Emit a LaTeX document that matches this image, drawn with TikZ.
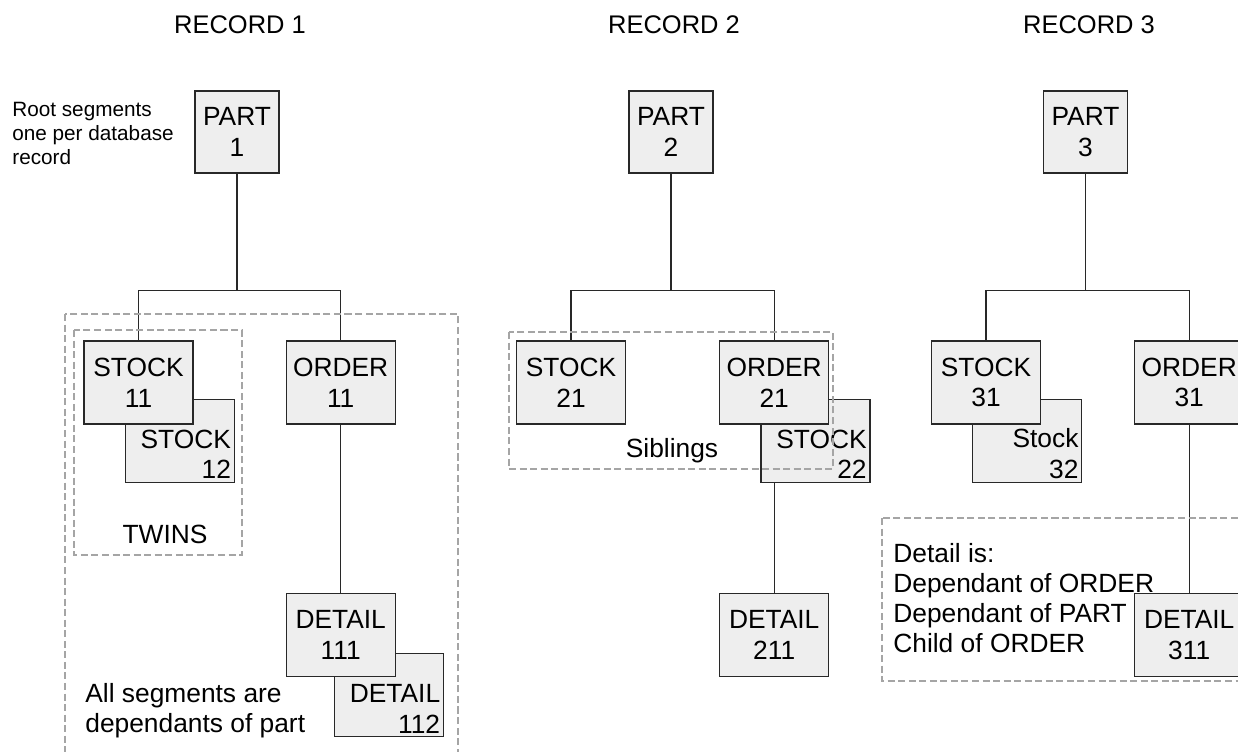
\documentclass[tikz,border=0pt]{standalone}
\usepackage{fontspec}
\setmainfont{Liberation Sans}
\usetikzlibrary{positioning,backgrounds}
\definecolor{segfill}{RGB}{238,238,238}
\definecolor{segline}{RGB}{40,40,40}
\definecolor{grpgray}{RGB}{165,165,165}
\newcommand{\segfont}{\fontsize{15}{17.5}\selectfont}
\newcommand{\notefont}{\fontsize{15}{17}\selectfont}

\begin{document}
\begin{tikzpicture}[x=0.02cm, y=-0.02cm,
    box/.style={rectangle,draw=segline,fill=segfill,line width=0.7pt,
      minimum width=2.18cm,minimum height=1.66cm,inner sep=1pt,align=center,font=\segfont},
    root/.style={box,minimum width=1.68cm,minimum height=1.64cm},
    twin/.style={box,below right=-0.52cm and -1.38cm of #1},
    twinlbl/.style={anchor=south east,inner sep=2pt,align=right,font=\segfont},
    conn/.style={draw=segline,line width=0.7pt},
    grp/.style={draw=grpgray,line width=0.6pt,dash pattern=on 4pt off 2pt},
    note/.style={anchor=north west,inner sep=0pt,align=left,font=\notefont},
    rectitle/.style={anchor=base,font=\fontsize{14.5}{17}\selectfont}]
  \useasboundingbox (0,0) rectangle (1238,751);
  \clip (0,0) rectangle (1238,751);

  % record 1
  \node[root] (p1) at (237,132) {PART\\1};
  \node[box] (s11) at (138.5,382.5) {STOCK\\11};
  \node[box,right=1.84cm of s11] (o11) {ORDER\\11};
  \node[box,below=3.36cm of o11] (d111) {DETAIL\\111};
  \coordinate[below=2.34cm of p1.south] (j1);

  % record 2
  \node[root] (p2) at (671,132) {PART\\2};
  \node[box] (s21) at (571,382.5) {STOCK\\21};
  \node[box,right=1.86cm of s21] (o21) {ORDER\\21};
  \node[box,below=3.36cm of o21] (d211) {DETAIL\\211};
  \coordinate[below=2.34cm of p2.south] (j2);

  % record 3
  \node[root] (p3) at (1085.5,132) {PART\\3};
  \node[box] (s31) at (986,382.5) {STOCK\\31};
  \node[box,right=1.86cm of s31] (o31) {ORDER\\31};
  \node[box,below=3.36cm of o31] (d311) {DETAIL\\311};
  \coordinate[below=2.34cm of p3.south] (j3);

  \begin{pgfonlayer}{background}
    \draw[conn] (p1) -- (j1);
    \draw[conn] (s11) |- (j1) -| (o11);
    \draw[conn] (o11) -- (d111);
    \draw[conn] (p2) -- (j2);
    \draw[conn] (s21) |- (j2) -| (o21);
    \draw[conn] (o21) -- (d211);
    \draw[conn] (p3) -- (j3);
    \draw[conn] (s31) |- (j3) -| (o31);
    \draw[conn] (o31) -- (d311);
    % twins behind their first segment
    \node[twin=s11,label={[twinlbl]south east:STOCK\\12}] (s12) {};
    \node[twin=d111,below right=-0.48cm and -1.24cm of d111,
      label={[twinlbl]south east:DETAIL\\112}] (d112) {};
    \node[twin=o21,label={[twinlbl]south east:STOCK\\22}] (s22) {};
    \node[twin=s31,label={[twinlbl]south east:Stock\\32}] (s32) {};
  \end{pgfonlayer}

  % groups
  \draw[grp] (65,314) rectangle (458,760);
  \draw[grp] (74,330) rectangle (242,555);
  \draw[grp] (509,332) rectangle (833,469);
  \draw[grp] (882,518) rectangle (1250,681);

  \node[rectitle] (r1) at (240,33) {RECORD 1};
  \node[rectitle] (r2) at (674,33) {RECORD 2};
  \node[rectitle] (r3) at (1089,33) {RECORD 3};
  \node[note,font=\fontsize{11.8}{13.6}\selectfont] (rootnote) at (12,102)
    {Root segments\\one per database\\record};
  \node[anchor=base,font=\notefont] (twinsnote) at (165,543) {TWINS};
  \node[anchor=base,font=\notefont] (sibnote) at (672,457) {Siblings};
  \node[note] (allnote) at (85,683) {All segments are\\dependants of part};
  \node[note] (detnote) at (893,543)
    {Detail is:\\Dependant of ORDER\\Dependant of PART\\Child of ORDER};
\end{tikzpicture}
\end{document}
